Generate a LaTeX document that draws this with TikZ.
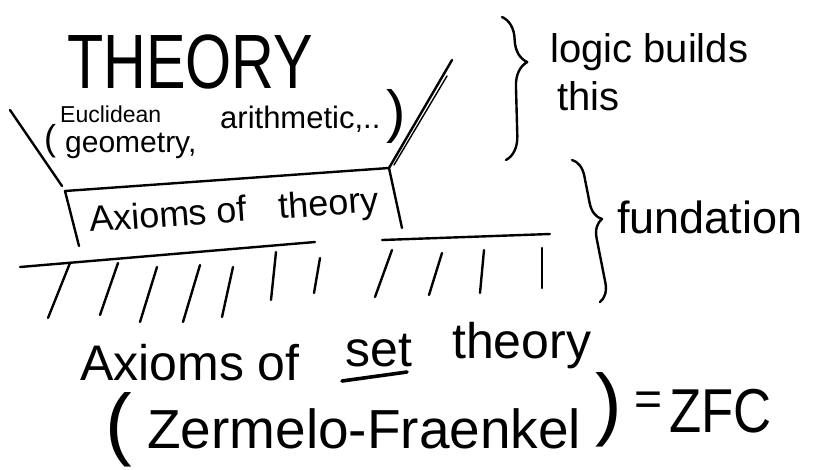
\documentclass[tikz,border=0pt]{standalone}
\usepackage{fontspec}
\setmainfont{Liberation Sans}
\usetikzlibrary{decorations.pathreplacing}
\newcommand{\handsize}[1]{\fontsize{#1}{#1}\selectfont}

\begin{document}
\begin{tikzpicture}[
  x=1pt, y=-1pt,
  pen/.style={line width=2.4pt, line cap=round, line join=round},
  hand/.style={inner sep=0pt, anchor=base west},
  paren/.style={inner sep=0pt, anchor=center}
]
\useasboundingbox[fill=white] (0,0) rectangle (816,469);

% the theory on top
\node[hand, font=\handsize{77}] (theory) at (67,88) {\scalebox{0.77}[1]{THEORY}};
\node[hand, font=\handsize{23}] (euclid) at (60,122) {Euclidean};
\node[hand, font=\handsize{30}] (geom) at (65,152) {geometry,};
\node[hand, font=\handsize{31}] (arith) at (220,128) {arithmetic,..};
\node[paren, font=\handsize{36}] (lpar) at (50,141) {(};
\node[paren, font=\handsize{58}] (rpar) at (396,116) {)};

% the box and its flaps
\coordinate (boxbl) at (79,246);
\coordinate (boxtl) at (65,191);
\coordinate (boxtr) at (389,168);
\coordinate (boxbr) at (402,228);
\draw[pen] (boxbl) -- (boxtl) -- (boxtr) -- (boxbr);
\draw[pen] (10,110) -- (62,186);
\draw[pen] (boxtr) -- (452,60);
\draw[pen, line width=1.4pt] (394,165) -- (447,76);
\node[hand, font=\handsize{36}, rotate=4] (axtheory) at (90,232) {Axioms of\hspace{0.6em} theory};

% ground and hatching
\draw[pen] (20,267) -- (315,242);
\draw[pen] (382,240) -- (550,234);
\foreach \tx/\ty/\bx/\by in {70/263/48/318, 118/263/100/315, 157/267/140/322,
    200/265/183/322, 233/267/222/317, 276/252/271/300, 320/258/314/293,
    392/250/375/297, 442/253/429/295, 484/250/480/293, 542/248/542/288}
  \draw[pen] (\tx,\ty) -- (\bx,\by);

% braces
\coordinate (b1top) at (502,17);
\coordinate (b1bot) at (506,160);
\coordinate (b2top) at (572,160);
\coordinate (b2bot) at (600,302);
\draw[pen, decorate, decoration={brace, amplitude=24pt, aspect=0.32}] (b1top) -- (b1bot);
\draw[pen, decorate, decoration={brace, amplitude=18pt, aspect=0.44}] (b2top) -- (b2bot);
\node[hand, font=\handsize{40}] (logic) at (550,62) {logic builds};
\node[hand, font=\handsize{40}] (this) at (557,110) {this};
\node[hand, font=\handsize{45}] (fund) at (617,233) {fundation};

% set theory below
\node[hand, font=\handsize{50}] (axset) at (80,380) {Axioms of};
\node[hand, font=\handsize{50}] (set) at (345,366) {set};
\node[hand, font=\handsize{50}] (settheory) at (452,358) {theory};
\draw[pen, line width=3.6pt] (342,381) -- (407,372);
\node[paren, font=\handsize{80}] (zlpar) at (119,430) {(};
\node[hand, font=\handsize{55}] (zf) at (147,448) {Zermelo-Fraenkel};
\node[paren, font=\handsize{80}] (zrpar) at (609,410) {)};
\node[paren, font=\handsize{48}] (eq) at (649,404) {=};
\node[hand, font=\handsize{62}] (zfc) at (669,432) {\scalebox{0.85}[1]{ZFC}};
\end{tikzpicture}
\end{document}
